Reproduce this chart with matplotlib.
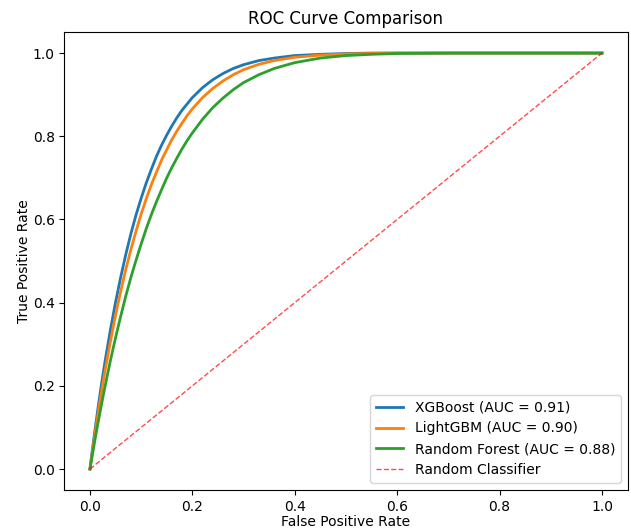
import matplotlib
matplotlib.use("Agg")
import matplotlib.pyplot as plt

# False positive rate grid (read positions)
fpr = [0.0, 0.005, 0.01, 0.015, 0.02, 0.025, 0.03, 0.04, 0.05, 0.06,
       0.07, 0.08, 0.09, 0.10, 0.11, 0.12, 0.13, 0.14, 0.15, 0.16,
       0.17, 0.18, 0.19, 0.20, 0.22, 0.24, 0.26, 0.28, 0.30, 0.33,
       0.36, 0.40, 0.45, 0.50, 0.55, 0.60, 0.70, 0.80, 0.90, 1.0]

# True positive rates
tpr_xgb = [0.0, 0.049, 0.096, 0.140, 0.183, 0.224, 0.263, 0.335, 0.401, 0.461,
           0.516, 0.566, 0.611, 0.651, 0.688, 0.721, 0.752, 0.779, 0.803, 0.825,
           0.845, 0.863, 0.878, 0.893, 0.917, 0.936, 0.951, 0.963, 0.972, 0.982,
           0.988, 0.994, 0.997, 0.999, 1.0, 1.0, 1.0, 1.0, 1.0, 1.0]
tpr_lgbm = [0.0, 0.044, 0.086, 0.127, 0.166, 0.204, 0.240, 0.307, 0.370, 0.427,
            0.480, 0.528, 0.572, 0.613, 0.650, 0.684, 0.714, 0.743, 0.768, 0.792,
            0.813, 0.832, 0.850, 0.866, 0.893, 0.915, 0.933, 0.948, 0.960, 0.973,
            0.982, 0.990, 0.995, 0.998, 0.999, 1.0, 1.0, 1.0, 1.0, 1.0]
tpr_rf = [0.0, 0.036, 0.072, 0.106, 0.139, 0.171, 0.202, 0.261, 0.316, 0.367,
          0.416, 0.461, 0.502, 0.541, 0.578, 0.612, 0.643, 0.672, 0.700, 0.725,
          0.748, 0.770, 0.790, 0.808, 0.841, 0.869, 0.892, 0.912, 0.929, 0.948,
          0.963, 0.977, 0.988, 0.994, 0.997, 0.999, 1.0, 1.0, 1.0, 1.0]

labels = ["XGBoost (AUC = 0.91)", "LightGBM (AUC = 0.90)", "Random Forest (AUC = 0.88)"]
colors = ["#1f77b4", "#ff7f0e", "#2ca02c"]

diag = [0.0, 1.0]

fig = plt.figure(figsize=(6.31, 5.29), dpi=100)
ax = fig.add_axes([0.102, 0.0741, 0.8926, 0.8649])

for y, lab, c in zip([tpr_xgb, tpr_lgbm, tpr_rf], labels, colors):
    ax.plot(fpr, y, color=c, lw=2, label=lab)
ax.plot(diag, diag, "r--", lw=1, alpha=0.7, label="Random Classifier")

ax.set_xlabel("False Positive Rate", labelpad=1)
ax.set_ylabel("True Positive Rate", labelpad=1)
ax.set_title("ROC Curve Comparison")
ax.legend(loc="lower right")

fig.savefig("out.png", dpi=100)
